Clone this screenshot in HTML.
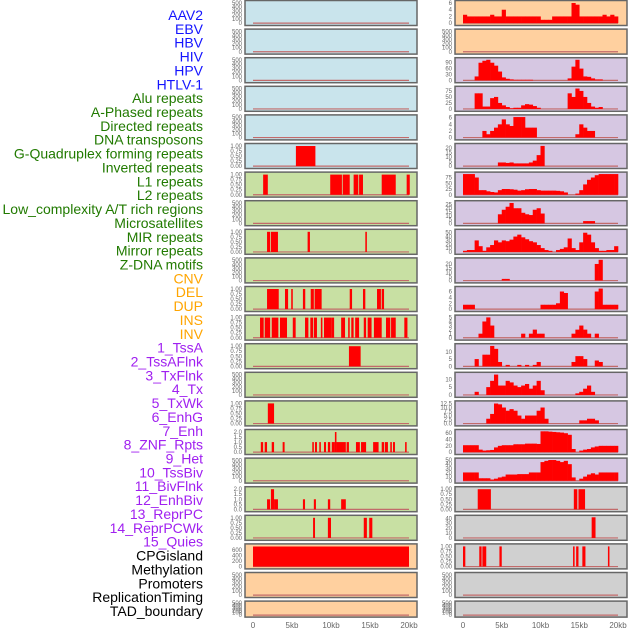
<!DOCTYPE html>
<html><head><meta charset="utf-8">
<style>
html,body{margin:0;padding:0;background:#fff;width:630px;height:630px;overflow:hidden}
svg{display:block}
.lab{font-family:"Liberation Sans",sans-serif;font-size:14px}
.tk{font-family:"Liberation Sans",sans-serif;font-size:6px;fill:#666}
.ax{font-family:"Liberation Sans",sans-serif;font-size:8px;fill:#666}
</style></head>
<body>
<svg id="chart" width="630" height="630" xmlns="http://www.w3.org/2000/svg"></svg>
<script>
// ---- data ----
const rowLabels = ["AAV2","EBV","HBV","HIV","HPV","HTLV-1","Alu repeats","A-Phased repeats","Directed repeats","DNA transposons","G-Quadruplex forming repeats","Inverted repeats","L1 repeats","L2 repeats","Low_complexity A/T rich regions","Microsatellites","MIR repeats","Mirror repeats","Z-DNA motifs","CNV","DEL","DUP","INS","INV","1_TssA","2_TssAFlnk","3_TxFlnk","4_Tx","5_TxWk","6_EnhG","7_Enh","8_ZNF_Rpts","9_Het","10_TssBiv","11_BivFlnk","12_EnhBiv","13_ReprPC","14_ReprPCWk","15_Quies","CPGisland","Methylation","Promoters","ReplicationTiming","TAD_boundary"];
const labelGroups = [6,13,5,15,5];
const xTickLabels = ["0","5kb","10kb","15kb","20kb"];
const xTickValues = [0,5,10,15,20];

const T500 = ["0","100","200","300","400","500"];
const T1 = ["0.00","0.25","0.50","0.75","1.00"];
const T2 = ["0.0","0.5","1.0","1.5","2.0"];

// left column spans: [startKb, endKb, value]
const leftSpans5 = [[5.5,8.0,1]];
const leftSpans6 = [[1.3,1.9,1],[9.9,11.4,1],[11.5,12.4,1],[12.9,13.5,1],[13.6,14.1,1],[16.5,18.3,1],[19.7,20.1,1]];
const leftSpans8 = [[1.8,2.2,1],[2.3,3.2,1],[7.0,7.3,1],[14.4,14.6,1]];
const leftSpans10 = [[1.8,3.3,1],[4.1,4.5,1],[4.9,5.1,1],[6.4,6.7,1],[7.4,7.8,1],[7.9,8.8,1],[12.4,12.7,1],[14.1,14.4,1],[15.9,16.4,1],[16.5,16.8,1]];
const leftSpans11 = [[0.9,1.37,1],[1.5,2.2,1],[2.4,3.25,1],[3.46,4.36,1],[5.1,5.47,1],[6.67,7.1,1],[7.35,7.7,1],[7.8,8.2,1],[8.7,8.9,1],[9.1,10.1,1],[10.1,10.4,1],[11.3,11.8,1],[12.2,12.4,1],[12.6,12.9,1],[13.1,13.6,1],[14.2,14.5,1],[14.7,15.2,1],[15.5,16.5,1],[17.05,17.6,1],[17.7,18.3,1],[19.4,19.8,1]];
const leftSpans12 = [[12.3,13.8,1]];
const leftSpans14 = [[1.9,2.7,1]];
const leftSpans15 = [[1.0,1.3,1],[1.5,1.8,1],[2.4,2.7,1],[3.8,4.05,1],[7.6,7.8,1],[7.95,8.2,1],[8.5,8.7,1],[9.1,9.36,1],[9.6,9.9,1],[10.1,10.5,1],[10.5,10.7,2],[10.7,11.9,1],[12.0,12.3,1],[13.2,13.7,1],[13.85,14.5,1],[15.4,16.1,1],[16.5,16.8,1],[16.9,17.3,1],[17.6,17.8,1],[17.95,18.2,1],[19.5,19.7,1]];
const leftSpans17 = [[1.8,2.2,1],[2.3,2.7,2],[2.7,3.2,1],[6.4,6.67,1],[7.8,8.07,1],[9.6,9.9,1],[11.3,11.9,1]];
const leftSpans18 = [[7.7,7.95,1],[9.6,10.0,1],[14.2,14.6,1],[14.9,15.3,1]];
const leftSpans19 = [[0,20,730]];

// right column histograms: 40 bins of 0.5kb
const rightBins0 = [2.5,2,2,2,2,2,2,2.5,2,2,4,2,2,2,2,2,2,2,2,2,1,1,1,2,2,2,2,2,6,5.5,2,2,2,2,2,2,2.5,2,2.5,2];
const rightBins2 = [0,0,0,20,90,100,105,90,75,45,15,8,5,3,3,3,3,3,0,0,0,0,0,0,0,0,0,10,70,105,60,20,18,10,5,5,0,0,0,0];
const rightBins3 = [0,0,0,65,65,10,10,45,50,25,15,8,3,5,5,15,20,18,12,5,0,0,0,0,0,0,0,65,50,85,75,50,25,10,5,8,0,0,0,0];
const rightBins4 = [0,0,0,0,0,2,1,2,3,4,5.5,4,3.5,6.2,6.2,6.2,3,3,3,0,0,0,0,0,0,0,0,0,0,1,4,3,2,2,0,0,0,0,0,0];
const rightBins5 = [0,0,0,0,0,0,0,0,0,4,4,3.5,4,3,3,3,3,4,6,12,22,0,0,0,0,0,0,0,0,0,0,0,0,0,0,0,0,0,0,0];
const rightBins6 = [90,90,90,75,20,20,15,12,10,20,25,25,24,22,18,20,24,25,25,20,18,18,18,18,17,15,10,0,0,5,20,45,65,75,85,90,90,90,90,90];
const rightBins7 = [0,0,0,0,0,0,0,0,0,12,18,22,27,20,20,14,12,11,18,20,13,0,0,0,0,0,0,0,0,0,0,3,3,3,0,0,0,0,0,0];
const rightBins8 = [3,5,5,30,15,3,12,18,30,25,30,28,32,40,45,38,33,28,25,18,10,5,3,0,5,8,12,35,10,5,25,50,45,25,10,3,3,5,5,15];
const rightBins9 = [0,0,0,0,0,0,0,0,0,0,2,2,0,0,0,0,0,0,0,0,0,0,0,0,0,0,0,0,0,0,0,0,0,0,20,25,0,0,0,0];
const rightBins10 = [1.5,1.5,1.5,0,0,0,0,0,0,0,0,0,0,0,0,0,0,0,0,0,1.5,1.5,1.5,1.5,2,6,5.5,0,0,0,0,0,0,0,6,7,1.5,1.5,1.5,1.5];
const rightBins11 = [0,0,0,0,1,4,5,3,0,0,0,0,0,0,0,1,0,1,2,1,1,0,0,0,0,0,0,0,1,2,3,2,1,0,1,0,0,0,0,0];
const rightBins12 = [0,0,0,5,0,8,8,14,12,3,0,1,0,0,1,0,1,0,1,3,0,0,0,0,0,0,0,0,3,7,7,5,0,0,4,3,0,0,0,0];
const rightBins13 = [0,0,0,2,0,0,5,9,13,6,6,9,8,6,5,6,7,4,6,9,3,0,0,0,0,0,0,0,0,1,2,4,6,2,0,0,0,0,0,0];
const rightBins14 = [0,0,0,0,0,0,3,6,12.5,12,10,8,9,8,5,3,5,5,5,8,10,3,0,0,0,0,0,0,0,0,2,2,3,3,2,0,0,0,0,0];
const rightBins15 = [22,22,22,22,8,5,6,7,15,20,22,22,22,25,25,25,27,27,27,26,66,66,65,64,63,62,60,55,10,0,5,8,10,15,18,20,20,20,20,20];
const rightBins16 = [20,20,20,20,6,6,6,3,5,8,10,15,15,15,16,16,16,20,20,20,45,48,50,50,48,45,48,40,8,0,5,10,15,18,15,20,20,20,20,20];
const rightSpans17 = [[1.9,3.6,1],[14.3,14.75,1],[14.9,15.75,1]];
const rightSpans18 = [[16.6,17.1,42]];
const rightSpans19 = [[0,0.3,1],[2.1,2.4,1],[2.5,3.0,1],[4.7,5.0,1],[14.2,14.4,1],[14.6,14.9,1],[15.4,15.8,1],[18.7,18.9,1]];

// ---- panel config ----
const BLUE="#c9e4ec",GREEN="#c8e0a3",PEACH="#ffd09f",PURP="#d6c7e2",GRAY="#d0d0d0";
const leftPanels=[];
for(let i=0;i<22;i++){
  let bg=i<6?BLUE:(i<19?GREEN:PEACH);
  leftPanels.push({bg,ticks:T500,vals:[0,100,200,300,400,500],ymax:520,spans:null});
}
function setL(i,spans,ticks,vals,ymax){leftPanels[i].spans=spans;leftPanels[i].ticks=ticks;leftPanels[i].vals=vals;leftPanels[i].ymax=ymax;}
const V1=[0,0.25,0.5,0.75,1],V2=[0,0.5,1,1.5,2];
setL(5,leftSpans5,T1,V1,1.05);setL(6,leftSpans6,T1,V1,1.05);setL(8,leftSpans8,T1,V1,1.05);
setL(10,leftSpans10,T1,V1,1.05);setL(11,leftSpans11,T1,V1,1.05);setL(12,leftSpans12,T1,V1,1.05);
setL(14,leftSpans14,T1,V1,1.05);setL(15,leftSpans15,T2,V2,2.1);setL(17,leftSpans17,T2,V2,2.1);
setL(18,leftSpans18,T1,V1,1.05);setL(19,leftSpans19,["0","200","400","600"],[0,200,400,600],770);

const rightPanels=[
 {bg:PEACH,bins:rightBins0,ticks:["0","2","4","6"],vals:[0,2,4,6],ymax:6.3},
 {bg:PEACH,ticks:T500,vals:[0,100,200,300,400,500],ymax:520},
 {bg:PURP,bins:rightBins2,ticks:["0","30","60","90"],vals:[0,30,60,90],ymax:108},
 {bg:PURP,bins:rightBins3,ticks:["0","25","50","75"],vals:[0,25,50,75],ymax:88},
 {bg:PURP,bins:rightBins4,ticks:["0","2","4","6"],vals:[0,2,4,6],ymax:6.4},
 {bg:PURP,bins:rightBins5,ticks:["0","5","10","15","20"],vals:[0,5,10,15,20],ymax:23},
 {bg:PURP,bins:rightBins6,ticks:["0","25","50","75"],vals:[0,25,50,75],ymax:92},
 {bg:PURP,bins:rightBins7,ticks:["0","5","10","15","20","25"],vals:[0,5,10,15,20,25],ymax:28},
 {bg:PURP,bins:rightBins8,ticks:["0","10","20","30","40","50"],vals:[0,10,20,30,40,50],ymax:55},
 {bg:PURP,bins:rightBins9,ticks:["0","5","10","15","20"],vals:[0,5,10,15,20],ymax:25.5},
 {bg:PURP,bins:rightBins10,ticks:["0","2","4","6"],vals:[0,2,4,6],ymax:7.2},
 {bg:PURP,bins:rightBins11,ticks:["0","1","2","3","4","5"],vals:[0,1,2,3,4,5],ymax:5.2},
 {bg:PURP,bins:rightBins12,ticks:["0","5","10"],vals:[0,5,10],ymax:14.5},
 {bg:PURP,bins:rightBins13,ticks:["0","5","10"],vals:[0,5,10],ymax:13.5},
 {bg:PURP,bins:rightBins14,ticks:["0.0","2.5","5.0","7.5","10.0","12.5"],vals:[0,2.5,5,7.5,10,12.5],ymax:13.2},
 {bg:PURP,bins:rightBins15,ticks:["0","20","40","60"],vals:[0,20,40,60],ymax:67},
 {bg:PURP,bins:rightBins16,ticks:["0","10","20","30","40","50"],vals:[0,10,20,30,40,50],ymax:51},
 {bg:GRAY,spans:rightSpans17,ticks:T1,vals:V1,ymax:1.05},
 {bg:GRAY,spans:rightSpans18,ticks:["0","10","20","30","40"],vals:[0,10,20,30,40],ymax:43},
 {bg:GRAY,spans:rightSpans19,ticks:T1,vals:V1,ymax:1.05},
 {bg:GRAY,ticks:T500,vals:[0,100,200,300,400,500],ymax:520},
 {bg:GRAY,ticks:T500,vals:[0,100,200,300,400,500],ymax:520}
];

// ---- drawing ----
const svg=document.getElementById('chart');
const NS="http://www.w3.org/2000/svg";
function el(tag,attrs,parent){const e=document.createElementNS(NS,tag);for(const k in attrs)e.setAttribute(k,attrs[k]);(parent||svg).appendChild(e);return e;}

// labels
const groupColors=["#1414ff","#217a00","#ffa500","#a020f0","#000000"];
let gi=0,gc=0;
rowLabels.forEach((t,i)=>{
  const y=15+i*13.86;
  const tx=el('text',{x:203,y:y+5,'text-anchor':'end',class:'lab',fill:groupColors[gi]});
  
  
  tx.textContent=t;
  gc++; if(gc>=labelGroups[gi]){gi++;gc=0;}
});

function rowTop(i){return i*28.6;}
function rowH(i){return i===21?16:25;}

function drawPanel(cfg,i,x0,x1,kb0x,kb1x,side){
  const top=rowTop(i),h=rowH(i);
  const g=el('g',{});
  
  
  el('rect',{x:x0,y:top+0.5,width:x1-x0,height:h,fill:cfg.bg,stroke:'#666','stroke-width':1.5},g);
  const pTop=top+2,pBot=top+h-1;
  const lo=-0.04*cfg.ymax;
  const yS=v=>pBot-(v-lo)/(cfg.ymax-lo)*(pBot-pTop);
  const xS=k=>kb0x+(kb1x-kb0x)*k/20;
  // ticks
  cfg.vals.forEach((v,j)=>{
    const t=el('text',{x:x0-3,y:yS(v)+2,'text-anchor':'end',class:'tk'},svg);
    
    
    t.textContent=cfg.ticks[j];
  });
  // baseline
  el('line',{x1:xS(0),x2:xS(20),y1:yS(0),y2:yS(0),stroke:'#c26a6a','stroke-width':1.2},g);
  if(cfg.spans){
    cfg.spans.forEach(s=>{
      const r=el('rect',{x:xS(s[0]),y:yS(s[2]),width:Math.max(1.2,xS(s[1])-xS(s[0])),height:yS(0)-yS(s[2]),fill:'#ff0000'},g);
      
      
    });
  }
  if(cfg.bins){
    const n=cfg.bins.length;
    cfg.bins.forEach((v,b)=>{
      if(v<=0)return;
      const a=xS(b*20/n),c=xS((b+1)*20/n);
      const r=el('rect',{x:a,y:yS(v),width:c-a+0.3,height:yS(0)-yS(v),fill:'#ff0000'},g);
      
      
    });
  }
}
leftPanels.forEach((p,i)=>drawPanel(p,i,245,417,253,409,'left'));
rightPanels.forEach((p,i)=>drawPanel(p,i,455,627,463,618,'right'));

// x axes
[[253,409],[463,618]].forEach(([a,b])=>{
  xTickValues.forEach((v,j)=>{
    const t=el('text',{x:a+(b-a)*v/20,y:628,'text-anchor':'middle',class:'ax'});
    
    
    t.textContent=xTickLabels[j];
  });
});
</script>
</body></html>
